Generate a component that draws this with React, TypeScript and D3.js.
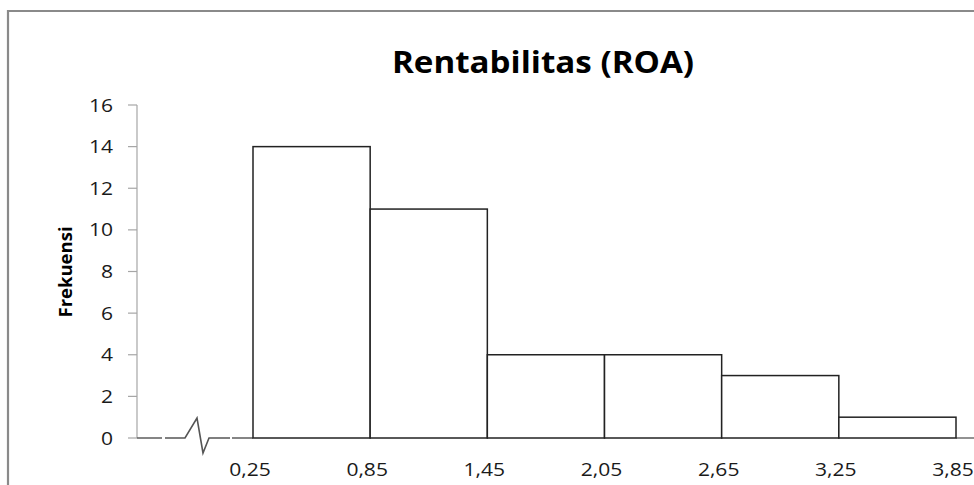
import React from "react";
import * as d3 from "d3";

// Histogram bins (lower/upper class boundaries) and their frequencies
const binEdges = [0.25, 0.85, 1.45, 2.05, 2.65, 3.25, 3.85];
const frequencies = [14, 11, 4, 4, 3, 1];
const xTickLabels = ["0,25", "0,85", "1,45", "2,05", "2,65", "3,25", "3,85"];
const yTicks = [0, 2, 4, 6, 8, 10, 12, 14, 16];

const title = "Rentabilitas (ROA)";
const yLabel = "Frekuensi";

const W = 974;
const H = 485;
const FONT = "'Open Sans', 'Noto Sans', sans-serif";
const TICK_STRETCH = 1.17;

export default function App() {
  const axisX = 137;
  const x = d3.scaleLinear().domain([0.25, 3.85]).range([253, 956]);
  const y = d3.scaleLinear().domain([0, 16]).range([438, 105]);
  const y0 = y(0);

  const bins = frequencies.map((f, i) => ({
    x0: binEdges[i],
    x1: binEdges[i + 1],
    f,
  }));

  // axis-break zigzag on the x axis
  const breakPath = d3.line()([
    [165, y0],
    [185, y0],
    [197, y0 - 20],
    [203, y0 + 15],
    [209, y0],
    [230, y0],
  ]);

  return (
    <svg
      width={W}
      height={H}
      style={{ position: "absolute", left: 0, top: 0, background: "#fff" }}
    >
      {/* chart area frame */}
      <path d={`M8,${H} L8,11 L${W},11`} fill="none" stroke="#8a8a8a" strokeWidth={2.2} />

      <text
        transform={`translate(543,73) scale(1.07,1)`}
        textAnchor="middle"
        fontFamily={FONT}
        fontWeight="bold"
        fontSize={31}
        fill="#000"
      >
        {title}
      </text>

      {/* y axis */}
      <line x1={axisX} x2={axisX} y1={y(16)} y2={y0} stroke="#a6a6a6" strokeWidth={1.2} />
      {yTicks.map((t) => (
        <g key={t}>
          <line x1={128} x2={axisX} y1={y(t)} y2={y(t)} stroke="#a6a6a6" strokeWidth={1.2} />
          <text
            transform={`translate(113,${y(t) + 6.5}) scale(${TICK_STRETCH},1)`}
            textAnchor="end"
            fontFamily={FONT}
            fontSize={18}
            fill="#1a1a1a"
          >
            {t}
          </text>
        </g>
      ))}
      <text
        transform={`translate(72,272) rotate(-90)`}
        textAnchor="middle"
        fontFamily={FONT}
        fontWeight="bold"
        fontSize={18.5}
        fill="#000"
      >
        {yLabel}
      </text>

      {/* x axis with break */}
      <line x1={axisX} x2={162} y1={y0} y2={y0} stroke="#666" strokeWidth={1.6} />
      <path d={breakPath ?? ""} fill="none" stroke="#555" strokeWidth={1.6} />
      <line x1={232} x2={x(0.25)} y1={y0} y2={y0} stroke="#666" strokeWidth={1.6} />
      <line x1={x(3.85)} x2={W} y1={y0} y2={y0} stroke="#777" strokeWidth={1.6} />

      {/* bars */}
      {bins.map((b, i) => (
        <rect
          key={i}
          x={x(b.x0)}
          y={y(b.f)}
          width={x(b.x1) - x(b.x0)}
          height={y0 - y(b.f)}
          fill="#fff"
          stroke="#222"
          strokeWidth={1.5}
        />
      ))}

      {binEdges.map((e, i) => (
        <text
          key={i}
          transform={`translate(${x(e) - 3},475.5) scale(${TICK_STRETCH},1)`}
          textAnchor="middle"
          fontFamily={FONT}
          fontSize={18}
          fill="#1a1a1a"
        >
          {xTickLabels[i]}
        </text>
      ))}
    </svg>
  );
}
